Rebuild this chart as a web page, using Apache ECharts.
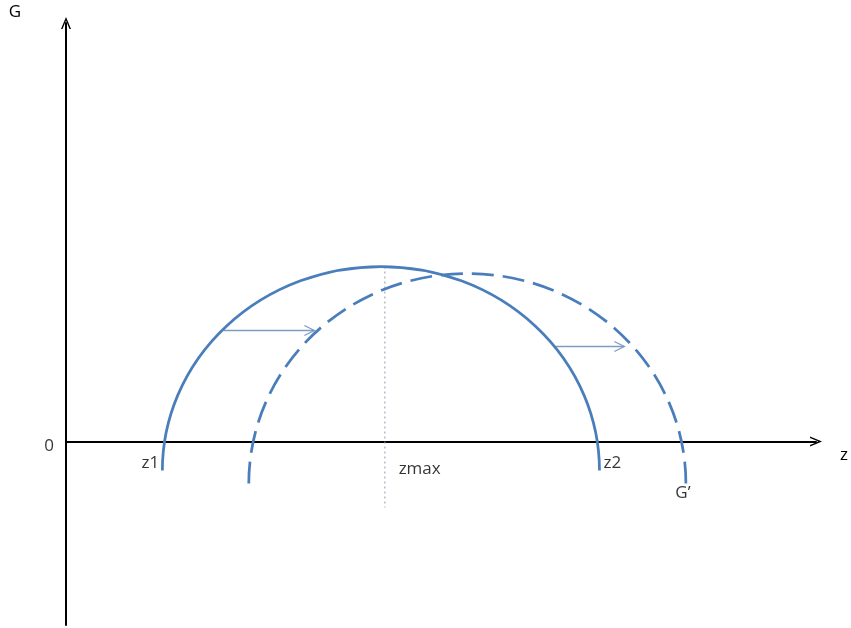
<!DOCTYPE html>
<html>
<head>
<meta charset="utf-8">
<script src="https://cdn.jsdelivr.net/npm/echarts@6/dist/echarts.min.js"></script>
<style>
    html, body { margin: 0; padding: 0; background: #fff; }
    #chart-curve-shift { width: 851px; height: 628px; }
</style>
</head>
<body>
<div id="chart-curve-shift"></div>
<script>
// 1 unit = 10px on both axes, origin where the axes cross
let arcNames = ["G", "G'"],
    arcStart = [9.7, 18.4],
    arcEnd = [53.7, 62.4],
    arcBase = [-2.9, -4.2],
    arcPeak = [17.5, 16.8];

let shiftFrom = [15.9, 49.1],
    shiftTo = [25.0, 56.2],
    shiftLevel = [11.1, 9.5];

let zmaxPos = 32.1,
    zmaxTop = 17.5,
    zmaxBottom = -6.6;

let labelText = ["0", "z1", "zmax", "z2", "G\u2019"],
    labelZ = [-1.7, 8.5, 35.6, 55.0, 62.1],
    labelG = [-0.5, -2.2, -2.8, -2.2, -5.2];

let fontFamily = '"Open Sans", "Noto Sans", sans-serif';
let openArrow = "path://M0,12 L5,0 L10,12 L8.5,12 L5,3.6 L1.5,12 Z";
let myChart = echarts.init(document.getElementById("chart-curve-shift"));

function renderArc(params, api) {
    let l = api.coord([api.value(0), api.value(2)]),
        r = api.coord([api.value(1), api.value(2)]),
        top = api.coord([(api.value(0) + api.value(1)) / 2, api.value(3)]);
    let rx = (r[0] - l[0]) / 2,
        ry = l[1] - top[1];
    let dashed = params.dataIndex === 1;
    return {
        type: "path",
        shape: {
            pathData: "M" + l[0] + "," + l[1] + " A" + rx + "," + ry + " 0 0 1 " + r[0] + "," + r[1],
        },
        style: {
            fill: "none",
            stroke: "#4a7ebb",
            lineWidth: 2.75,
            lineDash: dashed ? [22, 9] : null,
        },
    };
}

function renderShift(params, api) {
    let a = api.coord([api.value(0), api.value(2)]),
        b = api.coord([api.value(1), api.value(2)]);
    let style = { stroke: "#7d9bc3", lineWidth: 1.3, fill: "none" };
    return {
        type: "group",
        children: [
            { type: "line", shape: { x1: a[0], y1: a[1], x2: b[0], y2: b[1] }, style: style },
            {
                type: "polyline",
                shape: { points: [[b[0] - 10, b[1] - 5], [b[0], b[1]], [b[0] - 10, b[1] + 5]] },
                style: style,
            },
        ],
    };
}

let option = {
    animation: false,
    backgroundColor: "#fff",
    textStyle: { fontFamily: fontFamily },
    grid: { left: 66, right: 30, top: 23, bottom: 3 },
    xAxis: {
        type: "value",
        min: 0,
        max: 75.5,
        name: "z",
        nameLocation: "end",
        nameGap: 24,
        nameTextStyle: { fontSize: 17, color: "#000", verticalAlign: "top", padding: [5, 0, 0, 0], fontFamily: fontFamily },
        axisLine: { show: true, onZero: true, symbol: ["none", openArrow], symbolSize: [11, 12], lineStyle: { color: "#000", width: 2 } },
        axisTick: { show: false },
        axisLabel: { show: false },
        splitLine: { show: false },
    },
    yAxis: {
        type: "value",
        min: -18.35,
        max: 41.85,
        name: "G",
        nameLocation: "end",
        nameGap: 2,
        nameTextStyle: { fontSize: 17, color: "#000", align: "right", padding: [0, 45, 0, 0], fontFamily: fontFamily },
        axisLine: { show: true, symbol: ["none", openArrow], symbolSize: [11, 12], lineStyle: { color: "#000", width: 2 } },
        axisTick: { show: false },
        axisLabel: { show: false },
        splitLine: { show: false },
    },
    series: [
        {
            // zmax guide
            type: "line",
            data: [[zmaxPos, zmaxTop], [zmaxPos, zmaxBottom]],
            symbol: "none",
            clip: false,
            lineStyle: { color: "#8e9bb0", width: 1, type: [2, 3] },
            z: 1,
        },
        {
            type: "custom",
            renderItem: renderArc,
            clip: false,
            data: arcNames.map((n, i) => [arcStart[i], arcEnd[i], arcBase[i], arcPeak[i]]),
            z: 3,
        },
        {
            type: "custom",
            renderItem: renderShift,
            clip: false,
            data: shiftFrom.map((v, i) => [v, shiftTo[i], shiftLevel[i]]),
            z: 2,
        },
        {
            type: "scatter",
            symbolSize: 0,
            clip: false,
            data: labelText.map((t, i) => ({ value: [labelZ[i], labelG[i]], name: t })),
            label: {
                show: true,
                position: "inside",
                formatter: "{b}",
                color: "#000",
                fontSize: 17,
                fontFamily: fontFamily,
            },
            z: 4,
        },
    ],
};
option && myChart.setOption(option);
</script>
</body>
</html>
